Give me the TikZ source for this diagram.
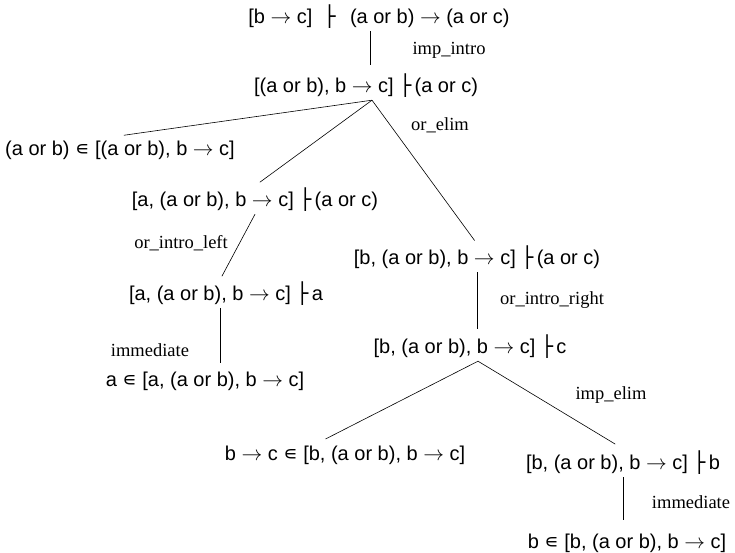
\documentclass[tikz,border=0pt]{standalone}
\usepackage{fontspec}
\setmainfont{Liberation Sans}
\newfontfamily\rulefont{Liberation Serif}
\newfontfamily\symfont{DejaVu Sans}
\usepackage{tikz}
\newcommand{\ent}{{\symfont ├}\,}
\newcommand{\imp}{$\rightarrow$}
\newcommand{\mem}{{\symfont ∊}}

\begin{document}
\begin{tikzpicture}[
  x=1pt, y=-1pt,
  seq/.style={font=\fontsize{20}{22}\selectfont, minimum height=28pt, inner sep=0pt},
  rule/.style={font=\fontsize{18.5}{20}\selectfont\rulefont, inner sep=0pt},
  br/.style={semithick, shorten >=4pt}
]
\useasboundingbox (0,0) rectangle (735,553);
% sequents
\node[seq] (s0) at (379,17) {[b \imp{} c] \ \ent{} \ (a or b) \imp{} (a or c)};
\node[seq] (s1) at (366,86) {[(a or b), b \imp{} c] \ent{}(a or c)};
\node[seq] (s2) at (120,150) {(a or b) \mem{} [(a or b), b \imp{} c]};
\node[seq] (s3) at (255,200) {[a, (a or b), b \imp{} c] \ent{}(a or c)};
\node[seq] (s4) at (477,258) {[b, (a or b), b \imp{} c] \ent{}(a or c)};
\node[seq] (s5) at (226,294) {[a, (a or b), b \imp{} c] \ent{}a};
\node[seq] (s6) at (470,347) {[b, (a or b), b \imp{} c] \ent{}c};
\node[seq] (s7) at (205,381) {a \mem{} [a, (a or b), b \imp{} c]};
\node[seq] (s8) at (345,455) {b \imp{} c \mem{} [b, (a or b), b \imp{} c]};
\node[seq] (s9) at (623,463) {[b, (a or b), b \imp{} c] \ent{}b};
\node[seq] (s10) at (627,543) {b \mem{} [b, (a or b), b \imp{} c]};
% rule names
\node[rule] (r0) at (449,50) {imp\_intro};
\node[rule] (r1) at (440,125) {or\_elim};
\node[rule] (r2) at (181,243) {or\_intro\_left};
\node[rule] (r3) at (552,300) {or\_intro\_right};
\node[rule] (r4) at (150,350) {immediate};
\node[rule] (r5) at (611,395) {imp\_elim};
\node[rule] (r6) at (691,502) {immediate};
% branches
\draw[br, shorten >=7pt] ([xshift=-9pt]s0.south) -- ([xshift=-9pt]s0.south |- s1.north);
\draw[br] ([xshift=6pt]s1.south) -- (s2.north);
\draw[br, shorten >=6pt] ([xshift=6pt]s1.south) -- (s3.north);
\draw[br] ([xshift=6pt]s1.south) -- (s4.north);
\draw[br] (s3.south) -- ([xshift=-6pt]s5.north);
\draw[br] ([xshift=-6pt]s5.south) -- ([xshift=-6pt]s5.south |- s7.north);
\draw[br] (s4.south) -- (s4.south |- s6.north);
\draw[br] ([xshift=8pt]s6.south) -- ([xshift=-23pt]s8.north);
\draw[br, shorten >=9pt] ([xshift=8pt]s6.south) -- (s9.north);
\draw[br, shorten >=9pt] (s9.south) -- (s9.south |- s10.north);
\end{tikzpicture}
\end{document}
